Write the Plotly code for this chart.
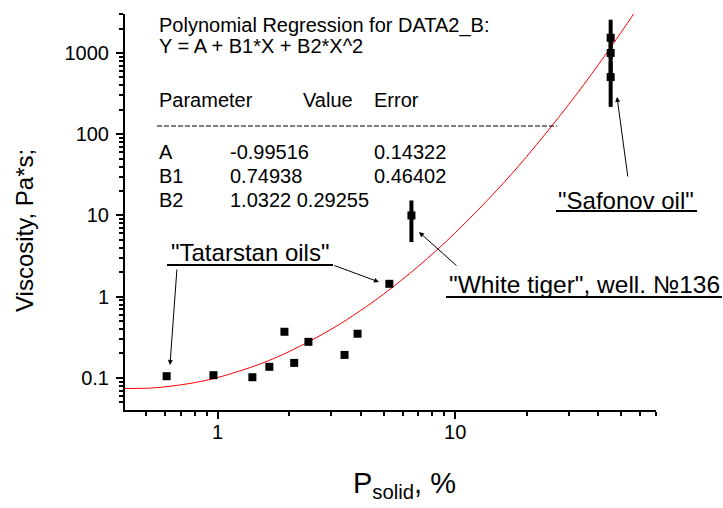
import plotly.graph_objects as go

# ---- data ----
tatarstan_x = [0.61, 0.96, 1.40, 1.65, 1.91, 2.10, 2.41, 3.42, 3.88, 5.28]
tatarstan_y = [0.105, 0.108, 0.102, 0.137, 0.37, 0.153, 0.278, 0.192, 0.35, 1.44]

tiger_x = [6.54]
tiger_y = [10.0]
tiger_err = [5.3]

safonov_x = [45.1, 45.1, 45.1]
safonov_y = [1540, 1000, 505]
safonov_err_plus = [1030, 500, 280]
safonov_err_minus = [700, 500, 288]

fit_x = [0.4, 0.5, 0.6, 0.8, 1, 1.5, 2, 3, 4, 5, 7, 10, 15, 20, 30, 40, 50, 57]
fit_y = [0.0742, 0.0746, 0.0776, 0.0875, 0.101, 0.1475, 0.211, 0.396, 0.676, 1.08,
         2.37, 6.12, 20.6, 53.3, 231, 716, 1811, 3180]

x_ticks = [1, 10]
x_ticklabels = ["1", "10"]
y_ticks = [0.1, 1, 10, 100, 1000]
y_ticklabels = ["0.1", "1", "10", "100", "1000"]

param_names = ["A", "B1", "B2"]
param_values = ["-0.99516", "0.74938", "1.0322"]
param_errors = ["0.14322", "0.46402", "0.29255"]

# ---- layout geometry (pixels) ----
W, H = 723, 508
L, R, T, B = 125, 656, 14, 410
FONT = "Liberation Sans, Arial, sans-serif"


def px(x):
    return (x - L) / (R - L)


def py(y):
    return (B - y) / (B - T)


fig = go.Figure()

fig.add_trace(go.Scatter(x=fit_x, y=fit_y, mode="lines", line=dict(color="red", width=1, shape="spline"),
                         showlegend=False, hoverinfo="skip"))
fig.add_trace(go.Scatter(x=tatarstan_x, y=tatarstan_y, mode="markers",
                         marker=dict(symbol="square", size=8, color="black"), showlegend=False))
fig.add_trace(go.Scatter(x=tiger_x, y=tiger_y, mode="markers",
                         marker=dict(symbol="square", size=8, color="black"),
                         error_y=dict(type="data", array=tiger_err, thickness=4, width=0, color="black"),
                         showlegend=False))
fig.add_trace(go.Scatter(x=safonov_x, y=safonov_y, mode="markers",
                         marker=dict(symbol="square", size=8, color="black"),
                         error_y=dict(type="data", array=safonov_err_plus, arrayminus=safonov_err_minus,
                                      thickness=4, width=0, color="black"),
                         showlegend=False))

axis_common = dict(type="log", showgrid=False, zeroline=False, showline=True, linecolor="black",
                   linewidth=2, ticks="outside", ticklen=7, tickwidth=1.5, tickcolor="black",
                   tickfont=dict(family=FONT, size=20, color="black"),
                   minor=dict(ticks="outside", ticklen=4, tickwidth=1.5, tickcolor="black",
                              dtick="D1", showgrid=False))

fig.update_xaxes(range=[-0.39, 1.845], tickvals=x_ticks, ticktext=x_ticklabels,
                 ticklabelstandoff=-4, **axis_common)
fig.update_yaxes(range=[-1.395, 3.48], tickvals=y_ticks, ticktext=y_ticklabels,
                 ticklabelstandoff=3, **axis_common)

ann = []


def text(x, y, s, size=20, xanchor="left"):
    ann.append(dict(x=px(x), y=py(y), xref="paper", yref="paper", text=s, showarrow=False,
                    xanchor=xanchor, yanchor="middle", font=dict(family=FONT, size=size, color="black")))


# regression box
text(157, 25, "Polynomial Regression for DATA2_B:")
text(157, 46, "Y = A + B1*X + B2*X^2")
text(157, 100, "Parameter")
text(301, 100, "Value")
text(372, 100, "Error")
rows_y = [152, 176, 200]
text(157, rows_y[0], param_names[0]); text(228, rows_y[0], param_values[0]); text(372, rows_y[0], param_errors[0])
text(157, rows_y[1], param_names[1]); text(228, rows_y[1], param_values[1]); text(372, rows_y[1], param_errors[1])
text(157, rows_y[2], param_names[2]); text(228, rows_y[2], param_values[2] + " " + param_errors[2])

# labels
text(250, 252, '"Tatarstan oils"', size=24, xanchor="center")
text(584, 284, '"White tiger", well. №136', size=24.5, xanchor="center")
text(626, 200, '"Safonov oil"', size=24, xanchor="center")

# axis titles
ann.append(dict(x=px(404), y=py(485), xref="paper", yref="paper", text="P<sub>solid</sub>, %",
                showarrow=False, xanchor="center", yanchor="middle",
                font=dict(family=FONT, size=29, color="black")))
ann.append(dict(x=px(24), y=py(231), xref="paper", yref="paper", text="Viscosity, Pa*s;",
                showarrow=False, xanchor="center", yanchor="middle", textangle=-90,
                font=dict(family=FONT, size=24, color="black")))


def arrow(tx, ty, hx, hy):
    ann.append(dict(x=px(hx), y=py(hy), xref="paper", yref="paper", text="", showarrow=True,
                    ax=tx - hx, ay=ty - hy, arrowhead=2, arrowsize=1, arrowwidth=1,
                    arrowcolor="black", standoff=0))


arrow(177, 268, 170, 365)
arrow(333, 265, 379, 282)
arrow(458, 267, 419, 232)
arrow(628, 178, 617, 97)

shapes = [
    dict(type="line", xref="paper", yref="paper", x0=px(157), x1=px(557), y0=py(126), y1=py(126),
         line=dict(color="black", width=1, dash="5px,2px")),
    dict(type="line", xref="paper", yref="paper", x0=px(167), x1=px(333), y0=py(265), y1=py(265),
         line=dict(color="black", width=2)),
    dict(type="line", xref="paper", yref="paper", x0=px(446), x1=px(722), y0=py(297), y1=py(297),
         line=dict(color="black", width=2)),
    dict(type="line", xref="paper", yref="paper", x0=px(556), x1=px(697), y0=py(211), y1=py(211),
         line=dict(color="black", width=2)),
]

fig.update_layout(width=W, height=H, margin=dict(l=L, r=W - R, t=T, b=H - B),
                  paper_bgcolor="white", plot_bgcolor="white", annotations=ann, shapes=shapes,
                  showlegend=False)

fig.write_html("out.html", config={"displayModeBar": False},
               post_script="document.body.style.margin='0';")
